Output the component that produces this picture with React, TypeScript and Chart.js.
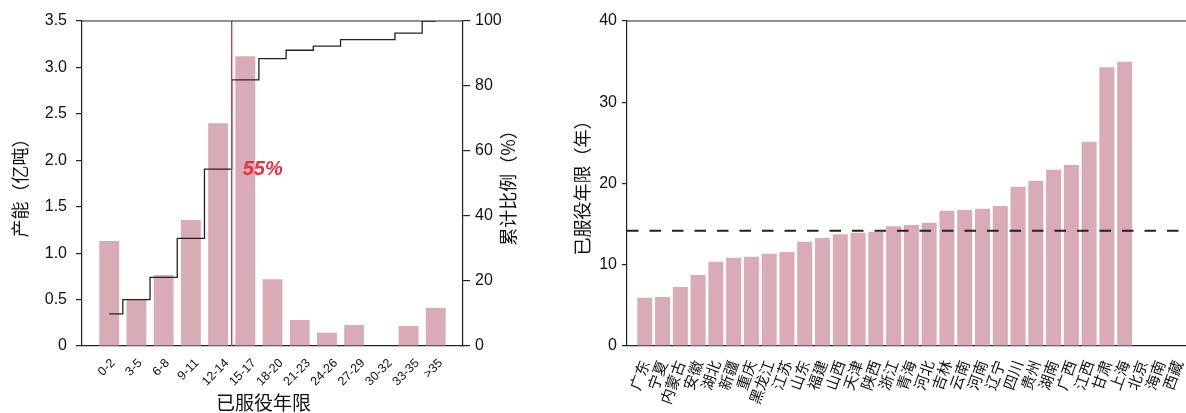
import React, { useEffect, useRef } from 'react';
import { Chart, registerables } from 'chart.js';

Chart.register(...registerables);

// ---------- data: left chart ----------
const ageBins = ['0-2', '3-5', '6-8', '9-11', '12-14', '15-17', '18-20', '21-23', '24-26', '27-29', '30-32', '33-35', '>35'];
const capacity = [1.13, 0.5, 0.765, 1.357, 2.4, 3.12, 0.72, 0.28, 0.143, 0.226, 0, 0.215, 0.41];
const cumulativePct = [9.9, 14.3, 21.1, 33.1, 54.4, 81.9, 88.4, 91.0, 92.3, 94.3, 94.3, 96.3, 100];
const splitAfterBin = '12-14';
const splitLabel = '55%';
const leftYTitle = '产能（亿吨）';
const rightYTitle = '累计比例（%）';
const leftXTitle = '已服役年限';

// ---------- data: right chart ----------
const provinces = ['广东', '宁夏', '内蒙古', '安徽', '湖北', '新疆', '重庆', '黑龙江', '江苏', '山东', '福建', '山西', '天津', '陕西', '浙江', '青海', '河北', '吉林', '云南', '河南', '辽宁', '四川', '贵州', '湖南', '广西', '江西', '甘肃', '上海', '北京', '海南', '西藏'];
const serviceYears: (number | null)[] = [5.94, 6.03, 7.26, 8.74, 10.38, 10.87, 10.99, 11.36, 11.57, 12.84, 13.29, 13.74, 13.95, 14.07, 14.73, 14.89, 15.18, 16.66, 16.74, 16.9, 17.23, 19.61, 20.35, 21.7, 22.28, 25.15, 34.3, 34.99, null, null, null];
const averageYears = 14.19;
const provinceYTitle = '已服役年限（年）';

const FONT = "'Liberation Sans', 'Noto Sans CJK SC', sans-serif";
const CJK = "'Noto Sans CJK SC', 'Liberation Sans', sans-serif";
const BAR = '#d9abb6';
const AXIS = '#222222';
const RED = '#ec2f38';

function drawRotated(ctx: CanvasRenderingContext2D, text: string, x: number, y: number, font: string) {
  ctx.save();
  ctx.translate(x, y);
  ctx.rotate(-Math.PI / 2);
  ctx.textAlign = 'center';
  ctx.textBaseline = 'middle';
  ctx.font = font;
  ctx.fillStyle = '#111';
  ctx.fillText(text, 0, 0);
  ctx.restore();
}

function topBorder(chart: any) {
  const { ctx, chartArea } = chart;
  ctx.save();
  ctx.strokeStyle = AXIS;
  ctx.lineWidth = 1.2;
  ctx.beginPath();
  ctx.moveTo(chartArea.left, chartArea.top);
  ctx.lineTo(chartArea.right, chartArea.top);
  ctx.stroke();
  ctx.restore();
}

export default function App() {
  const leftRef = useRef<HTMLCanvasElement | null>(null);
  const rightRef = useRef<HTMLCanvasElement | null>(null);

  useEffect(() => {
    const leftPlugin = {
      id: 'leftDecor',
      afterDatasetsDraw(chart: any) {
        const { ctx, chartArea, scales } = chart;
        const splitIdx = ageBins.indexOf(splitAfterBin);
        const xs = scales.x.getPixelForValue(splitIdx + 0.5);
        ctx.save();
        ctx.strokeStyle = RED;
        ctx.lineWidth = 1.4;
        ctx.beginPath();
        ctx.moveTo(xs, chartArea.bottom);
        ctx.lineTo(xs, chartArea.top);
        ctx.stroke();
        ctx.font = `italic bold 20px ${FONT}`;
        ctx.fillStyle = RED;
        ctx.textAlign = 'left';
        ctx.textBaseline = 'middle';
        ctx.fillText(splitLabel, xs + 11, scales.y1.getPixelForValue(cumulativePct[splitIdx]));
        ctx.restore();
        topBorder(chart);
      },
      afterDraw(chart: any) {
        const { ctx, chartArea, scales } = chart;
        const cy = (chartArea.top + chartArea.bottom) / 2;
        drawRotated(ctx, leftYTitle, chartArea.left - 62, cy, `18px ${CJK}`);
        drawRotated(ctx, rightYTitle, chartArea.right + 45, cy, `18px ${CJK}`);
        ctx.save();
        ctx.font = `19px ${CJK}`;
        ctx.fillStyle = '#111';
        ctx.textAlign = 'center';
        ctx.textBaseline = 'middle';
        ctx.fillText(leftXTitle, (chartArea.left + chartArea.right) / 2 - 9, chartArea.bottom + 57);
        ctx.restore();
        // rotated category labels, centred under their ticks
        ctx.save();
        ctx.font = `12.5px ${FONT}`;
        ctx.fillStyle = '#111';
        ageBins.forEach((lab, i) => {
          const tx = scales.x.getPixelForValue(i);
          const w = ctx.measureText(lab).width;
          const half = ((w + 9) * Math.SQRT1_2) / 2;
          ctx.save();
          ctx.translate(tx - 2.5, chartArea.bottom + 12 + half);
          ctx.rotate(-Math.PI / 4);
          ctx.textAlign = 'center';
          ctx.textBaseline = 'middle';
          ctx.fillText(lab, 0, 0);
          ctx.restore();
        });
        ctx.restore();
      },
    };

    const left = new Chart(leftRef.current as HTMLCanvasElement, {
      type: 'bar',
      data: {
        datasets: [
          {
            type: 'line',
            data: cumulativePct.map((y, i) => ({ x: i, y })),
            yAxisID: 'y1',
            stepped: 'middle',
            borderColor: '#222',
            borderWidth: 1.3,
            pointRadius: 0,
            fill: false,
            order: 0,
          } as any,
          {
            type: 'bar',
            data: capacity.map((y, i) => ({ x: i, y })),
            yAxisID: 'y',
            backgroundColor: BAR,
            categoryPercentage: 1,
            barPercentage: 0.73,
            order: 1,
          } as any,
        ],
      },
      options: {
        animation: false,
        responsive: false,
        maintainAspectRatio: false,
        layout: { padding: { top: 21, left: 0, right: 0, bottom: 0 } },
        plugins: { legend: { display: false }, tooltip: { enabled: false } },
        scales: {
          x: {
            type: 'linear',
            offset: false,
            min: -1,
            max: ageBins.length,
            grid: { display: false, offset: false },
            border: { display: true, color: AXIS, width: 1.2 },
            afterBuildTicks: (s: any) => {
              s.ticks = ageBins.map((_, i) => ({ value: i }));
            },
            ticks: { display: false },
            afterFit: (s: any) => {
              s.height = 67;
              s.paddingLeft = 0;
              s.paddingRight = 0;
            },
          },
          y: {
            position: 'left',
            min: 0,
            max: 3.5,
            grid: { drawOnChartArea: false, drawTicks: true, tickLength: 6, color: AXIS, lineWidth: 1.2 },
            border: { display: true, color: AXIS, width: 1.2 },
            ticks: {
              stepSize: 0.5,
              padding: 9,
              color: '#111',
              font: { family: FONT, size: 16 },
              callback: (v: any) => (v === 0 ? '0' : Number(v).toFixed(1)),
            },
            afterFit: (s: any) => {
              s.width = 82;
              s.paddingTop = 0;
              s.paddingBottom = 0;
            },
          },
          y1: {
            position: 'right',
            min: 0,
            max: 100,
            grid: { drawOnChartArea: false, drawTicks: true, tickLength: 7, color: AXIS, lineWidth: 1.2 },
            border: { display: true, color: AXIS, width: 1.2 },
            ticks: {
              stepSize: 20,
              padding: 5,
              color: '#111',
              font: { family: FONT, size: 16 },
            },
            afterFit: (s: any) => {
              s.width = 77;
              s.paddingTop = 0;
              s.paddingBottom = 0;
            },
          },
        },
      } as any,
      plugins: [leftPlugin],
    });

    const rightPlugin = {
      id: 'rightDecor',
      afterDatasetsDraw(chart: any) {
        const { ctx, chartArea, scales } = chart;
        const y = scales.y.getPixelForValue(averageYears);
        ctx.save();
        ctx.strokeStyle = AXIS;
        ctx.lineWidth = 2;
        ctx.setLineDash([11.5, 11]);
        ctx.beginPath();
        ctx.moveTo(chartArea.left, y);
        ctx.lineTo(chartArea.right, y);
        ctx.stroke();
        ctx.restore();
        topBorder(chart);
      },
      afterDraw(chart: any) {
        const { ctx, chartArea } = chart;
        drawRotated(ctx, provinceYTitle, chartArea.left - 45, (chartArea.top + chartArea.bottom) / 2, `18px ${CJK}`);
      },
    };

    const right = new Chart(rightRef.current as HTMLCanvasElement, {
      type: 'bar',
      data: {
        datasets: [
          {
            data: serviceYears.map((y, i) => ({ x: i, y })),
            backgroundColor: BAR,
            categoryPercentage: 1,
            barPercentage: 0.845,
          } as any,
        ],
      },
      options: {
        animation: false,
        responsive: false,
        maintainAspectRatio: false,
        layout: { padding: { top: 21, left: 0, right: 0, bottom: 0 } },
        plugins: { legend: { display: false }, tooltip: { enabled: false } },
        scales: {
          x: {
            type: 'linear',
            offset: false,
            min: -1,
            max: provinces.length - 0.55,
            grid: { display: false, offset: false },
            border: { display: true, color: AXIS, width: 1.2 },
            afterBuildTicks: (s: any) => {
              s.ticks = provinces.map((_, i) => ({ value: i }));
            },
            ticks: {
              autoSkip: false,
              minRotation: 70,
              maxRotation: 70,
              padding: 4,
              color: '#111',
              font: { family: CJK, size: 15 },
              callback: (v: any) => provinces[v] ?? '',
            },
            afterFit: (s: any) => {
              s.height = 67;
              s.paddingLeft = 0;
              s.paddingRight = 0;
            },
          },
          y: {
            position: 'left',
            min: 0,
            max: 40,
            grid: { drawOnChartArea: false, drawTicks: true, tickLength: 5, color: AXIS, lineWidth: 1.2 },
            border: { display: true, color: AXIS, width: 1.2 },
            ticks: {
              stepSize: 10,
              padding: 5,
              color: '#111',
              font: { family: FONT, size: 16 },
            },
            afterFit: (s: any) => {
              s.width = 87;
              s.paddingTop = 0;
              s.paddingBottom = 0;
            },
          },
        },
      } as any,
      plugins: [rightPlugin],
    });

    return () => {
      left.destroy();
      right.destroy();
    };
  }, []);

  return (
    <div style={{ position: 'absolute', left: 0, top: 0, width: 1186, height: 413, overflow: 'hidden', background: '#fff' }}>
      <canvas ref={leftRef} width={540} height={413} style={{ position: 'absolute', left: 0, top: 0, width: 540, height: 413 }} />
      <canvas ref={rightRef} width={646} height={413} style={{ position: 'absolute', left: 540, top: 0, width: 646, height: 413 }} />
    </div>
  );
}
